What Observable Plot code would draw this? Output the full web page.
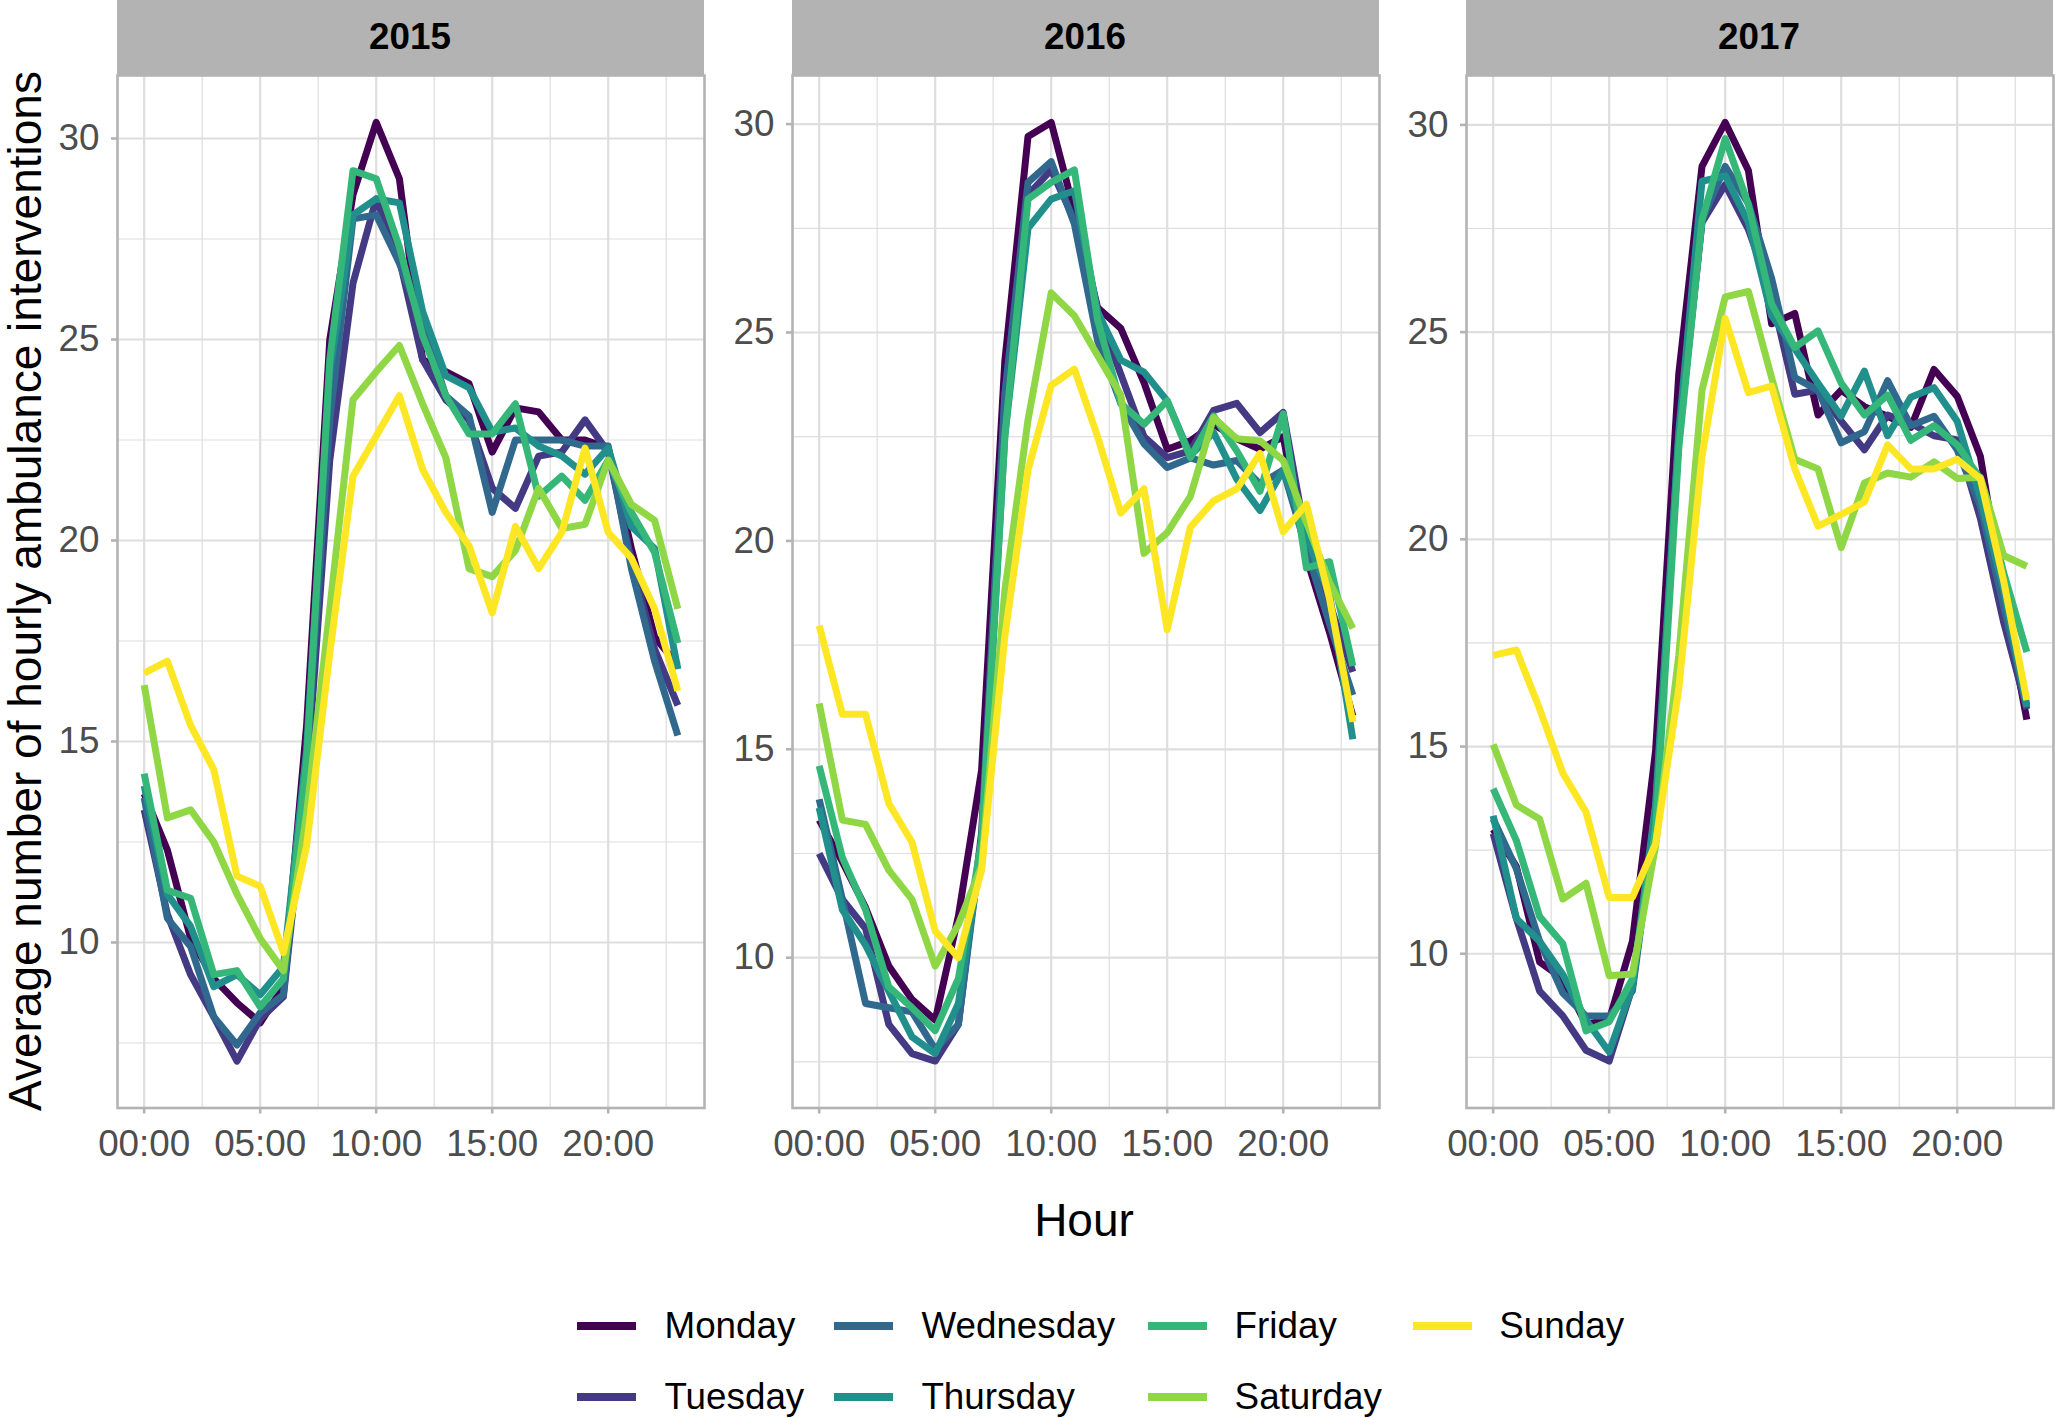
<!DOCTYPE html>
<html><head><meta charset="utf-8">
<script src="https://cdn.jsdelivr.net/npm/d3@7"></script>
<script src="https://cdn.jsdelivr.net/npm/@observablehq/plot@0.6"></script>
<style>
html,body{margin:0;padding:0;background:#fff;overflow:hidden;}
#root{position:relative;width:2055px;height:1418px;font-family:"Liberation Sans",Arial,sans-serif;color:#000;}
.abs{position:absolute;white-space:nowrap;line-height:1;}
</style></head><body><div id="root"></div>
<script>
// ---------- data ----------
const hours = [0,1,2,3,4,5,6,7,8,9,10,11,12,13,14,15,16,17,18,19,20,21,22,23];
const days = ["Monday","Tuesday","Wednesday","Thursday","Friday","Saturday","Sunday"];
const years = ["2015","2016","2017"];
const xTickValues = [0,5,10,15,20];
const xTickLabels = ["00:00","05:00","10:00","15:00","20:00"];
const xMinorValues = [2.5,7.5,12.5,17.5,22.5];
const yTickValues = [10,15,20,25,30];
const yMinorValues = [7.5,12.5,17.5,22.5,27.5];

const monday2015    = [13.7,12.3,10.1,9.1,8.5,8.0,8.9,15.4,25.0,28.6,30.4,29.0,24.5,24.2,23.9,22.2,23.3,23.2,22.5,22.5,22.3,19.8,17.6,16.9];
const tuesday2015   = [13.3,10.7,9.2,8.15,7.05,8.1,8.65,14.0,22.0,26.4,28.5,27.0,24.5,23.5,23.0,21.3,20.8,22.1,22.2,23.0,22.2,19.5,17.3,15.9];
const wednesday2015 = [13.6,10.6,9.9,8.15,7.45,8.25,8.7,14.5,23.0,28.0,28.1,26.9,25.4,23.6,23.1,20.7,22.5,22.5,22.5,22.35,22.35,19.3,17.0,15.15];
const thursday2015  = [13.9,11.2,10.4,8.9,9.2,8.7,9.4,14.8,24.2,28.1,28.5,28.4,25.7,24.1,23.8,22.7,22.8,22.35,22.1,21.65,22.3,20.35,19.8,16.8];
const friday2015    = [14.2,11.3,11.1,9.2,9.3,8.4,9.1,14.5,24.5,29.2,29.0,27.3,25.1,23.6,22.65,22.65,23.4,21.1,21.6,21.0,22.0,20.7,19.7,17.45];
const saturday2015  = [16.4,13.1,13.3,12.5,11.2,10.1,9.3,13.2,18.3,23.5,24.2,24.85,23.4,22.06,19.3,19.1,19.75,21.3,20.3,20.4,22.0,20.9,20.5,18.3];
const sunday2015    = [16.7,17.0,15.4,14.3,11.65,11.4,9.75,12.4,17.2,21.6,22.6,23.6,21.77,20.7,19.87,18.2,20.35,19.3,20.2,22.3,20.2,19.56,18.3,16.26];

const monday2016    = [13.3,12.3,11.2,9.8,9.0,8.5,11.0,14.5,24.3,29.7,30.04,27.9,25.6,25.1,23.8,22.2,22.4,22.8,22.45,22.2,22.5,19.6,17.8,15.8];
const tuesday2016   = [12.5,11.4,10.7,8.4,7.7,7.52,8.4,13.0,23.5,28.3,28.9,27.7,25.5,24.0,22.5,22.0,22.16,23.13,23.3,22.6,23.08,20.0,18.5,16.86];
const wednesday2016 = [13.8,11.4,8.9,8.8,8.7,7.8,8.4,12.8,23.5,28.6,29.1,27.6,24.8,23.3,22.33,21.76,21.99,21.82,21.93,21.36,21.7,19.8,18.0,16.3];
const thursday2016  = [13.6,11.15,10.3,9.2,8.1,7.7,8.9,12.6,22.5,27.5,28.2,28.4,25.5,24.34,24.05,23.36,22.05,22.6,21.48,20.73,21.7,20.1,18.7,15.24];
const friday2016    = [14.6,12.4,11.15,9.3,8.8,8.25,9.5,12.8,22.5,28.2,28.6,28.9,25.3,23.3,22.8,23.36,22.0,23.0,22.16,21.19,23.05,19.35,19.5,17.0];
const saturday2016  = [16.1,13.3,13.2,12.1,11.4,9.8,10.8,12.2,18.8,22.9,25.95,25.4,24.45,23.5,19.7,20.2,21.07,22.96,22.45,22.4,21.93,20.45,19.0,17.9];
const sunday2016    = [17.97,15.84,15.84,13.7,12.77,10.64,10.0,12.1,17.7,21.7,23.73,24.12,22.5,20.67,21.25,17.87,20.33,20.96,21.25,22.1,20.22,20.88,18.6,15.66];

const monday2017    = [13.0,12.1,9.8,9.4,8.3,8.4,10.3,14.9,24.0,29.0,30.06,28.9,25.2,25.45,23.0,23.6,23.2,22.97,22.7,24.1,23.45,22.0,18.6,15.65];
const tuesday2017   = [12.9,10.85,9.1,8.5,7.67,7.41,9.2,13.5,22.4,27.65,28.56,27.48,25.9,23.5,23.6,22.85,22.16,23.0,22.8,22.5,22.4,20.5,18.0,15.9];
const wednesday2017 = [13.25,12.05,10.3,9.05,8.5,8.5,9.1,13.3,22.5,27.7,29.0,28.1,26.3,23.9,23.6,22.33,22.6,23.83,22.74,22.97,22.16,20.8,18.4,16.0];
const thursday2017  = [13.33,10.85,10.3,9.5,8.4,7.63,9.2,13.6,22.6,28.64,28.77,27.65,25.4,24.6,23.77,22.97,24.06,22.5,23.43,23.66,22.85,21.0,18.8,15.95];
const friday2017    = [13.98,12.73,10.9,10.24,8.14,8.36,9.39,13.0,22.2,27.7,29.67,28.08,25.68,24.63,25.03,23.77,23.0,23.48,22.39,22.74,22.28,21.46,19.2,17.28];
const saturday2017  = [15.05,13.59,13.25,11.32,11.7,9.47,9.51,12.6,17.2,23.6,25.85,25.98,23.9,21.93,21.7,19.8,21.36,21.6,21.5,21.87,21.47,21.5,19.61,19.35];
const sunday2017    = [17.2,17.33,15.91,14.36,13.42,11.36,11.36,12.65,16.4,22.0,25.33,23.54,23.7,21.7,20.32,20.6,20.9,22.28,21.7,21.7,21.93,21.46,19.0,16.12];

// ---------- styles ----------
const dayColors = ["#440154","#443A83","#31688E","#21908C","#35B779","#8FD744","#FDE725"];
const FONT = '"Liberation Sans", Arial, sans-serif';
const panelLefts = [116.5, 791.5, 1465.5];
const panelW = 587, panelTop = 75, panelH = 1032.5;
const mL = 100, mR = 3, mT = 3, mB = 70;

const seriesByYear = {
  "2015": [monday2015,tuesday2015,wednesday2015,thursday2015,friday2015,saturday2015,sunday2015],
  "2016": [monday2016,tuesday2016,wednesday2016,thursday2016,friday2016,saturday2016,sunday2016],
  "2017": [monday2017,tuesday2017,wednesday2017,thursday2017,friday2017,saturday2017,sunday2017]
};

const root = document.getElementById("root");
function el(tag, css, text) {
  const e = document.createElement(tag);
  e.className = "abs";
  Object.assign(e.style, css);
  if (text != null) e.textContent = text;
  root.appendChild(e);
  return e;
}

const xPad = (hours[hours.length-1] - hours[0]) * 0.05;
const xDomain = [hours[0] - xPad, hours[hours.length-1] + xPad];

years.forEach((yr, i) => {
  const rows = [];
  days.forEach((day, di) => {
    seriesByYear[yr][di].forEach((v, hi) => rows.push({hour: hours[hi], day, value: v}));
  });
  const ext = d3.extent(rows, d => d.value);
  const yPad = (ext[1] - ext[0]) * 0.05;
  const yDomain = [ext[0] - yPad, ext[1] + yPad];

  const chart = Plot.plot({
    width: mL + panelW + mR,
    height: mT + panelH + mB,
    marginLeft: mL, marginRight: mR, marginTop: mT, marginBottom: mB,
    style: {fontFamily: FONT, background: "transparent", overflow: "visible"},
    x: {domain: xDomain},
    y: {domain: yDomain},
    color: {domain: days, range: dayColors},
    marks: [
      Plot.ruleX(xMinorValues, {stroke: "#DEDEDE", strokeWidth: 1.2}),
      Plot.ruleY(yMinorValues.filter(v => v > yDomain[0] && v < yDomain[1]), {stroke: "#DEDEDE", strokeWidth: 1.2}),
      Plot.ruleX(xTickValues, {stroke: "#DEDEDE", strokeWidth: 2.2}),
      Plot.ruleY(yTickValues, {stroke: "#DEDEDE", strokeWidth: 2.2}),
      Plot.line(rows, {x: "hour", y: "value", z: "day", stroke: "day", strokeWidth: 7, strokeLinecap: "butt", strokeLinejoin: "round"}),
      Plot.frame({stroke: "#B3B3B3", strokeWidth: 2.6}),
      Plot.axisX({ticks: xTickValues, tickFormat: d => xTickLabels[xTickValues.indexOf(d)], tickSize: 6, tickPadding: 16, fontSize: 36.8, stroke: "#B3B3B3", strokeWidth: 2.6, fill: "#4D4D4D", label: null}),
      Plot.axisY({ticks: yTickValues, tickFormat: d => String(d), tickSize: 6, tickPadding: 12, fontSize: 36.8, stroke: "#B3B3B3", strokeWidth: 2.6, fill: "#4D4D4D", label: null})
    ]
  });
  chart.style.position = "absolute";
  chart.style.left = (panelLefts[i] - mL) + "px";
  chart.style.top = (panelTop - mT) + "px";
  root.appendChild(chart);

  // facet strip
  el("div", {left: panelLefts[i] + "px", top: "0px", width: panelW + "px", height: panelTop + "px",
    background: "#B3B3B3", display: "flex", alignItems: "center", justifyContent: "center",
    fontSize: "36.8px", fontWeight: "bold", color: "#000"}, yr);
});

// axis titles
el("div", {left: "25px", top: "591px", fontSize: "46px", transform: "translate(-50%,-50%) rotate(-90deg)"},
   "Average number of hourly ambulance interventions");
el("div", {left: "1084px", top: "1197px", fontSize: "46px", transform: "translateX(-50%)"}, "Hour");

// legend (column-major, 2 rows)
const keyLefts = [576.7, 833.5, 1148.1, 1412.8];
const textLefts = [664.5, 921.4, 1234.6, 1499.3];
const rowCenters = [1326.3, 1397.1];
days.forEach((day, di) => {
  const col = Math.floor(di / 2), row = di % 2;
  const cy = rowCenters[row];
  el("div", {left: keyLefts[col] + "px", top: (cy - 4) + "px", width: "59px", height: "8px", background: dayColors[di]});
  el("div", {left: textLefts[col] + "px", top: (cy + 13.2 - 31.15) + "px", fontSize: "36.8px"}, day);
});
</script></body></html>
